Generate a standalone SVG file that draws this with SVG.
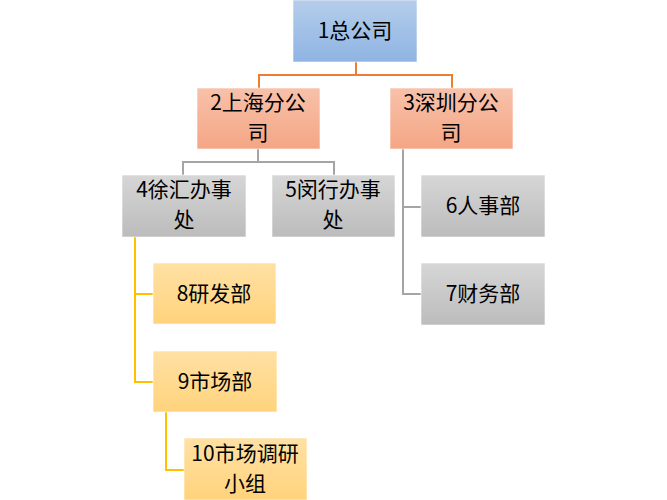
<svg xmlns="http://www.w3.org/2000/svg" width="667" height="500" viewBox="0 0 667 500">
<defs>
<linearGradient id="gBlue" x1="0" y1="0" x2="0" y2="1"><stop offset="0" stop-color="#b5cdea"/><stop offset="1" stop-color="#8eb4e3"/></linearGradient>
<linearGradient id="gOrange" x1="0" y1="0" x2="0" y2="1"><stop offset="0" stop-color="#f8c1aa"/><stop offset="1" stop-color="#f4a684"/></linearGradient>
<linearGradient id="gGray" x1="0" y1="0" x2="0" y2="1"><stop offset="0" stop-color="#d6d6d6"/><stop offset="1" stop-color="#bcbcbc"/></linearGradient>
<linearGradient id="gYellow" x1="0" y1="0" x2="0" y2="1"><stop offset="0" stop-color="#ffe1a4"/><stop offset="1" stop-color="#ffd37c"/></linearGradient>
</defs>
<style>
rect{stroke:#ffffff;stroke-width:1;stroke-opacity:0.6}
.b{fill:url(#gBlue)}.o{fill:url(#gOrange)}.g{fill:url(#gGray)}.y{fill:url(#gYellow)}
text{font-family:"Noto Sans CJK SC","Liberation Sans",sans-serif;font-size:21px;fill:#000;text-anchor:middle}
.c{fill:none;stroke-width:2}
.co{stroke:#ed7d31}.cg{stroke:#a5a5a5}.cy{stroke:#ffc000}
</style>
<rect width="667" height="500" fill="#ffffff" stroke="none"/>
<g id="connectors">
<path class="c co" d="M356,62V75M259,88V75H452V88"/>
<path class="c cg" d="M258,149V162M183,175V162H334V175"/>
<path class="c cg" d="M403,149V294H421M403,207H421"/>
<path class="c cy" d="M135,237V382H153M135,294H153"/>
<path class="c cy" d="M166,412V470H184"/>
</g>
<g id="n1"><rect class="b" x="293" y="0" width="124" height="62"/><text x="355" y="38">1总公司</text></g>
<g id="n2"><rect class="o" x="197" y="88" width="123" height="61"/><text x="258" y="110">2上海分公<tspan x="258" dy="30">司</tspan></text></g>
<g id="n3"><rect class="o" x="390" y="88" width="123" height="61"/><text x="451" y="110">3深圳分公<tspan x="451" dy="30">司</tspan></text></g>
<g id="n4"><rect class="g" x="122" y="175" width="124" height="62"/><text x="184" y="197">4徐汇办事<tspan x="184" dy="30">处</tspan></text></g>
<g id="n5"><rect class="g" x="272" y="175" width="123" height="62"/><text x="333" y="197">5闵行办事<tspan x="333" dy="30">处</tspan></text></g>
<g id="n6"><rect class="g" x="421" y="175" width="124" height="62"/><text x="483" y="213">6人事部</text></g>
<g id="n7"><rect class="g" x="421" y="263" width="124" height="62"/><text x="483" y="301">7财务部</text></g>
<g id="n8"><rect class="y" x="153" y="263" width="123" height="61"/><text x="214" y="301">8研发部</text></g>
<g id="n9"><rect class="y" x="153" y="351" width="124" height="61"/><text x="215" y="389">9市场部</text></g>
<g id="n10"><rect class="y" x="184" y="438" width="123" height="62"/><text x="245" y="461">10市场调研<tspan x="245" dy="30">小组</tspan></text></g>
</svg>
